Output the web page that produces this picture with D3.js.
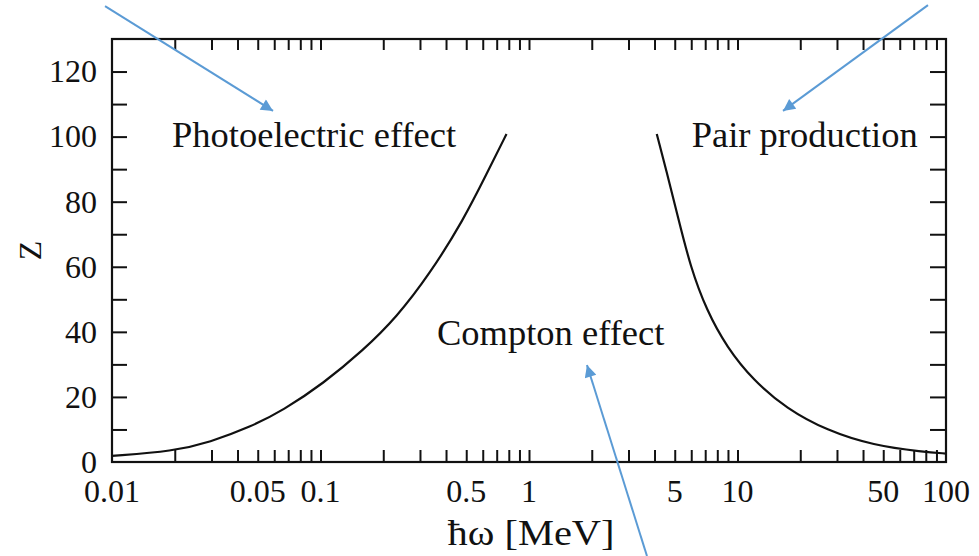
<!DOCTYPE html>
<html>
<head>
<meta charset="utf-8">
<script src="https://cdn.jsdelivr.net/npm/d3@7"></script>
<style>
  html, body { margin: 0; padding: 0; background: #fff; }
  svg { display: block; }
  text { font-family: "Liberation Serif", "DejaVu Serif", serif; fill: #111; }
</style>
</head>
<body>
<svg id="chart" width="979" height="556"></svg>
<script>
// ---- data ----
const xDomain = [0.01, 100];
const yDomain = [0, 130];
const xTickLabels = [0.01, 0.05, 0.1, 0.5, 1, 5, 10, 50, 100];
const xTickLabelText = ["0.01", "0.05", "0.1", "0.5", "1", "5", "10", "50", "100"];
const yTickLabels = [0, 20, 40, 60, 80, 100, 120];
const yMinorStep = 10;

// photoelectric / Compton boundary (hbar*omega [MeV], Z)
const photoX = [0.01, 0.0197, 0.0295, 0.0459, 0.0663, 0.103, 0.160, 0.232, 0.335, 0.484, 0.627, 0.78];
const photoZ = [1.9, 3.3, 6.1, 10.7, 15.9, 24.1, 34.3, 44.5, 57.9, 74.3, 88.6, 100.8];

// Compton / pair production boundary
const pairX = [4.10, 4.55, 5.18, 5.95, 7.11, 8.88, 11.9, 17.2, 26.8, 44.8, 77.8, 100];
const pairZ = [100.8, 89.8, 75.3, 59.9, 46.6, 35.3, 25.1, 16.4, 9.7, 5.1, 3.1, 2.6];

// region labels [text, x, Z] (x in MeV, Z value at baseline)
const regionLabels = [
  ["Photoelectric effect", 0.0194, 96.8],
  ["Pair production", 6.03, 96.7],
  ["Compton effect", 0.362, 36.0]
];

// annotation arrows [x0, Z0, x1, Z1] (tail -> head)
const arrows = [
  [0.00926, 140.1, 0.0592, 107.9],
  [81.96, 140.4, 16.53, 107.9],
  [3.68, -28.9, 1.897, 29.8]
];

const xTitle = "ħω [MeV]";
const yTitle = "Z";

// ---- layout ----
const svg = d3.select("#chart");
const L = 112, R = 946, T = 39, B = 462;

const x = d3.scaleLog().domain(xDomain).range([L, R]);
const y = d3.scaleLinear().domain(yDomain).range([B, T]);

// all log ticks 1..9 per decade, excluding domain ends
const xAllTicks = [];
for (let e = -2; e < 2; e++) {
  for (let m = 1; m <= 9; m++) {
    const v = m * Math.pow(10, e);
    if (v > xDomain[0] * 1.0001 && v < xDomain[1] * 0.9999) xAllTicks.push(v);
  }
}
const yAllTicks = d3.range(yDomain[0] + yMinorStep, yDomain[1], yMinorStep);

const tickColor = "#111";
const tickW = 2;

// bottom ticks (inward)
svg.append("g")
  .attr("transform", `translate(0,${B})`)
  .call(d3.axisBottom(x).tickValues(xAllTicks).tickSizeInner(-12).tickSizeOuter(0).tickFormat(""))
  .call(g => g.select(".domain").remove())
  .call(g => g.selectAll("line").attr("stroke", tickColor).attr("stroke-width", tickW));

// top ticks (inward)
svg.append("g")
  .attr("transform", `translate(0,${T})`)
  .call(d3.axisTop(x).tickValues(xAllTicks).tickSizeInner(-11).tickSizeOuter(0).tickFormat(""))
  .call(g => g.select(".domain").remove())
  .call(g => g.selectAll("line").attr("stroke", tickColor).attr("stroke-width", tickW));

// left ticks (inward)
svg.append("g")
  .attr("transform", `translate(${L},0)`)
  .call(d3.axisLeft(y).tickValues(yAllTicks).tickSizeInner(-15).tickSizeOuter(0).tickFormat(""))
  .call(g => g.select(".domain").remove())
  .call(g => g.selectAll("line").attr("stroke", tickColor).attr("stroke-width", tickW));

// right ticks (inward)
svg.append("g")
  .attr("transform", `translate(${R},0)`)
  .call(d3.axisRight(y).tickValues(yAllTicks).tickSizeInner(-16).tickSizeOuter(0).tickFormat(""))
  .call(g => g.select(".domain").remove())
  .call(g => g.selectAll("line").attr("stroke", tickColor).attr("stroke-width", tickW));

// frame
svg.append("rect")
  .attr("x", L).attr("y", T).attr("width", R - L).attr("height", B - T)
  .attr("fill", "none").attr("stroke", "#111").attr("stroke-width", 2.2);

// x tick labels
svg.append("g").selectAll("text")
  .data(xTickLabels)
  .join("text")
  .attr("x", d => x(d))
  .attr("y", B + 40)
  .attr("text-anchor", "middle")
  .attr("font-size", 32)
  .text((d, i) => xTickLabelText[i]);

// y tick labels
svg.append("g").selectAll("text")
  .data(yTickLabels)
  .join("text")
  .attr("x", L - 15)
  .attr("y", d => y(d))
  .attr("dy", "0.34em")
  .attr("text-anchor", "end")
  .attr("font-size", 32)
  .text(d => d);

// axis titles
svg.append("text")
  .attr("x", x(1) + 2)
  .attr("y", 545)
  .attr("text-anchor", "middle")
  .attr("font-size", 35)
  .attr("textLength", 167)
  .attr("lengthAdjust", "spacingAndGlyphs")
  .text(xTitle);

svg.append("text")
  .attr("transform", `translate(41,${y(65)}) rotate(-90)`)
  .attr("text-anchor", "middle")
  .attr("font-size", 32)
  .text(yTitle);

// curves
const line = d3.line().x(d => x(d[0])).y(d => y(d[1])).curve(d3.curveBasis);
svg.append("path")
  .datum(photoX.map((v, i) => [v, photoZ[i]]))
  .attr("d", line)
  .attr("fill", "none").attr("stroke", "#111").attr("stroke-width", 2.2);
svg.append("path")
  .datum(pairX.map((v, i) => [v, pairZ[i]]))
  .attr("d", line)
  .attr("fill", "none").attr("stroke", "#111").attr("stroke-width", 2.2);

// region labels
svg.append("g").selectAll("text")
  .data(regionLabels)
  .join("text")
  .attr("x", d => x(d[1]))
  .attr("y", d => y(d[2]))
  .attr("font-size", 36.5)
  .text(d => d[0]);

// arrows
const arrowColor = "#5b9bd5";
svg.append("defs").append("marker")
  .attr("id", "ah")
  .attr("viewBox", "0 0 10 10")
  .attr("refX", 10).attr("refY", 5)
  .attr("markerWidth", 7).attr("markerHeight", 6)
  .attr("markerUnits", "strokeWidth")
  .attr("orient", "auto")
  .append("path").attr("d", "M0,0 L10,5 L0,10 Z").attr("fill", arrowColor);

svg.append("g").selectAll("line")
  .data(arrows)
  .join("line")
  .attr("x1", d => x(d[0])).attr("y1", d => y(d[1]))
  .attr("x2", d => x(d[2])).attr("y2", d => y(d[3]))
  .attr("stroke", arrowColor).attr("stroke-width", 2)
  .attr("marker-end", "url(#ah)");
</script>
</body>
</html>
